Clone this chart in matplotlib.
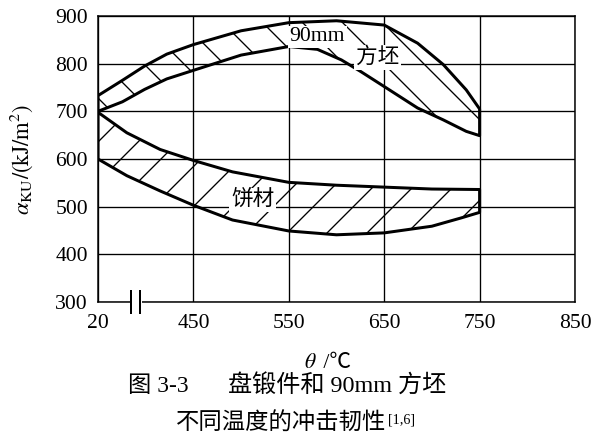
import numpy as np
import matplotlib
matplotlib.use('Agg')
import matplotlib.pyplot as plt
import matplotlib.transforms as mtransforms

# --- Fontes ---
plt.rcParams['font.family'] = ['Liberation Serif', 'Noto Sans CJK SC']
plt.rcParams['mathtext.fontset'] = 'stix'
plt.rcParams['hatch.linewidth'] = 0.8

# --- Dados (temperatura em ℃, aKU em kJ/m2) ---
# 90mm 方坯: limite superior e inferior da faixa
fangpi_t_sup = [20, 130, 230, 330, 450, 500, 550, 600, 650, 685, 712, 736, 750]
fangpi_v_sup = [733, 765, 795, 820, 840, 869, 886, 890, 881, 843, 798, 745, 705]
fangpi_t_inf = [20, 130, 230, 330, 450, 500, 550, 580, 605, 625, 650, 685, 712, 736, 750]
fangpi_v_inf = [700, 720, 746, 768, 786, 818, 836, 830, 808, 784, 752, 707, 682, 658, 649]

# 饼材: limite superior e inferior da faixa
bing_t_sup = [20, 150, 300, 450, 491, 550, 600, 650, 700, 750]
bing_v_sup = [698, 655, 620, 597, 573, 551, 545, 541, 537, 536]
bing_t_inf = [20, 150, 300, 450, 491, 550, 600, 650, 700, 730, 750]
bing_v_inf = [600, 565, 533, 503, 472, 449, 441, 445, 459, 476, 488]

x_ticks = [20, 450, 550, 650, 750, 850]
y_ticks = [300, 400, 500, 600, 700, 800, 900]


def pos(t):
    # eixo quebrado: 20..450 ℃ comprimido em uma divisão
    t = np.asarray(t, dtype=float)
    return np.where(t < 450, 350 + (t - 20) * 100 / 430, t)


def faixa(t_sup, v_sup, t_inf, v_inf):
    x = np.concatenate([pos(t_sup), pos(t_inf)[::-1]])
    y = np.concatenate([v_sup, v_inf[::-1]])
    return x, y


DPI = 120
fig = plt.figure(figsize=(597 / DPI, 438 / DPI), dpi=DPI)
ax = fig.add_axes([98 / 597, 1 - 302 / 438, (575 - 98) / 597, (302 - 16) / 438])

xf, yf = faixa(fangpi_t_sup, fangpi_v_sup, fangpi_t_inf, fangpi_v_inf)
ax.fill(xf, yf, facecolor='none', edgecolor='black', hatch='\\', linewidth=1.8, joinstyle='round')

xb, yb = faixa(bing_t_sup, bing_v_sup, bing_t_inf, bing_v_inf)
ax.fill(xb, yb, facecolor='none', edgecolor='black', hatch='/', linewidth=1.8, joinstyle='round')

# Rótulos das faixas
caixa = dict(facecolor='white', edgecolor='none', pad=1.0)
ax.text(580, 856, '90mm', ha='center', va='center', fontsize=13, bbox=caixa)
ax.text(643, 813, '方坯', ha='center', va='center', fontsize=13, bbox=caixa)
ax.text(512, 514, '饼材', ha='center', va='center', fontsize=13, bbox=caixa)

# Eixos e grade
ax.set_xlim(350, 850)
ax.set_ylim(300, 900)
ax.set_xticks(pos(x_ticks))
ax.set_xticklabels([str(t) for t in x_ticks])
ax.set_yticks(y_ticks)
ax.tick_params(length=0, labelsize=13)
ax.tick_params(axis='x', pad=7)
ax.tick_params(axis='y', pad=6)
ax.grid(True, color='black', linewidth=0.8)
for s in ax.spines.values():
    s.set_linewidth(0.9)

# Marca de quebra do eixo x
trans = mtransforms.blended_transform_factory(ax.transData, ax.transAxes)
ax.plot([386, 393], [0, 0], transform=trans, color='white', linewidth=3, clip_on=False, zorder=5)
for xq in (385, 394):
    ax.plot([xq, xq], [-0.04, 0.04], transform=trans, color='black', linewidth=1.2,
            clip_on=False, zorder=6)

ax.set_ylabel(r'$\alpha_{\mathrm{KU}}/(\mathrm{kJ/m^2})$', fontsize=13.5, labelpad=12)

# Título do eixo x e legenda da figura
fig.text(317 / 597, 1 - 364 / 438, r'$\theta$', ha='right', va='center', fontsize=13)
fig.text(318 / 597, 1 - 364 / 438, ' /℃', ha='left', va='center', fontsize=13)
fig.text(128 / 597, 1 - 386 / 438, '图 3-3', ha='left', va='center', fontsize=14)
fig.text(228 / 597, 1 - 386 / 438, '盘锻件和 90mm 方坯', ha='left', va='center', fontsize=14.5)
fig.text(281 / 597, 1 - 424 / 438, '不同温度的冲击韧性', ha='center', va='center', fontsize=14)
fig.text(388 / 597, 1 - 413 / 438, '[1,6]', ha='left', va='top', fontsize=8.5)

fig.savefig('out.png', dpi=DPI)
